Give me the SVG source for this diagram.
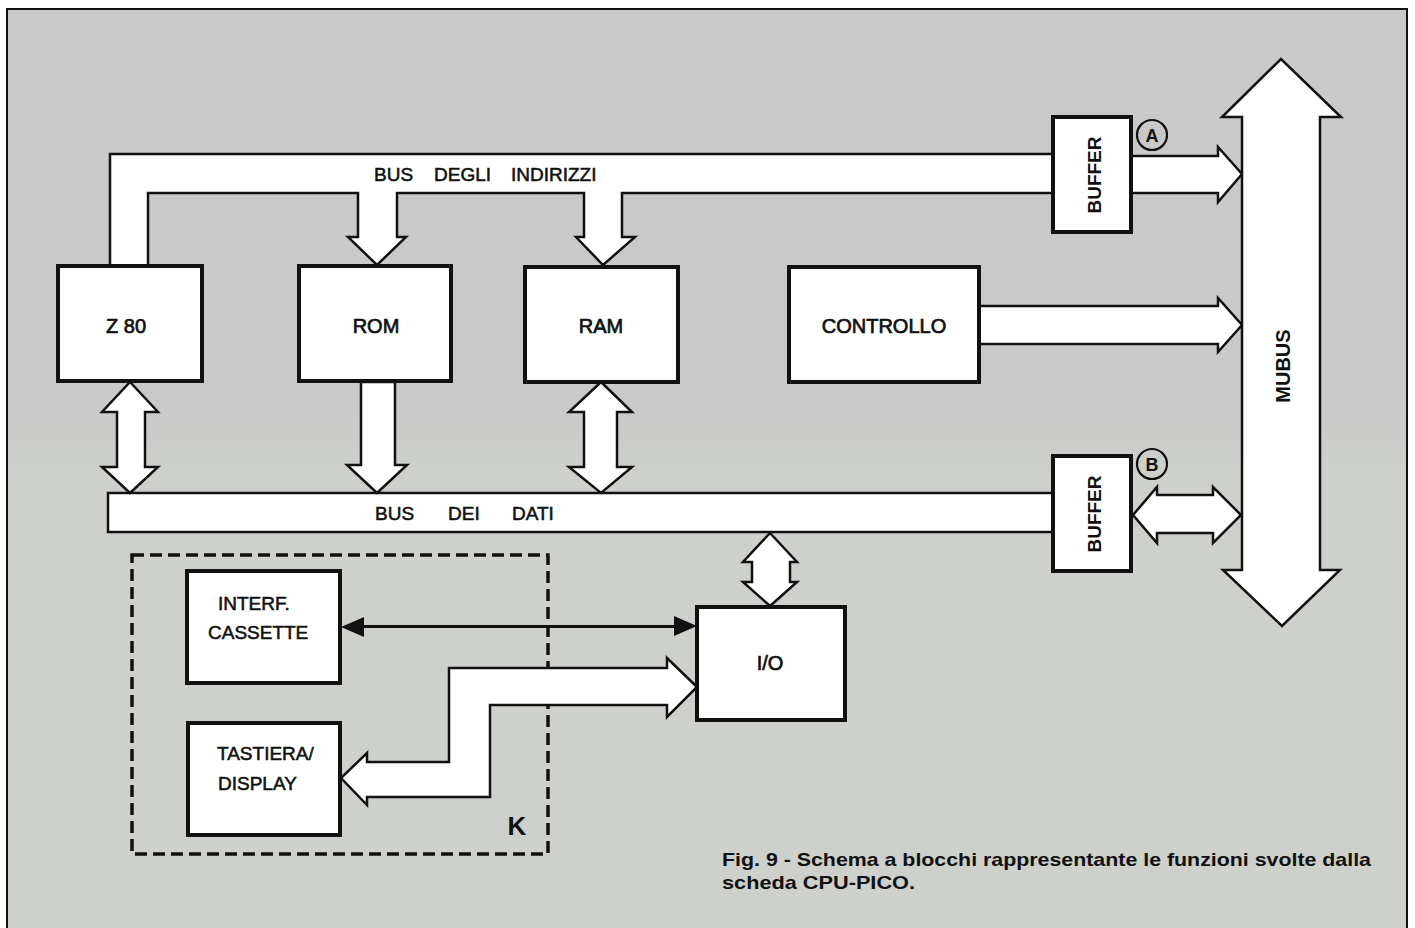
<svg xmlns="http://www.w3.org/2000/svg" width="1415" height="928" viewBox="0 0 1415 928">
<defs>
<linearGradient id="bg" x1="0" y1="0" x2="0" y2="1">
<stop offset="0" stop-color="#c9c9c9"/>
<stop offset="0.42" stop-color="#c9c9c9"/>
<stop offset="0.5" stop-color="#cdd0cb"/>
<stop offset="1" stop-color="#cdd0cb"/>
</linearGradient>
</defs>
<style>
.box{fill:#fff;stroke:#111;stroke-width:4}
.bus{fill:#fff;stroke:#111;stroke-width:2.5;stroke-linejoin:miter}
.lbl{font-family:"Liberation Sans",Arial,sans-serif;font-size:20px;fill:#111;stroke:#111;stroke-width:0.7;text-anchor:middle}
.bl{font-family:"Liberation Sans",Arial,sans-serif;font-size:19px;fill:#111;stroke:#111;stroke-width:0.55}
.bold{font-family:"Liberation Sans",Arial,sans-serif;font-weight:bold;fill:#111}
</style>
<rect x="0" y="0" width="1415" height="928" fill="#fff"/>
<rect x="7" y="9" width="1400" height="930" fill="url(#bg)" stroke="#111" stroke-width="2"/>

<g id="k-group">
  <rect x="132" y="555" width="416" height="299" fill="none" stroke="#111" stroke-width="3.5" stroke-dasharray="12 6"/>
  <text class="bold" x="517" y="835" font-size="26" text-anchor="middle">K</text>
</g>

<g id="connectors">
  <path class="bus" d="M110,266 L110,154 L1053,154 L1053,193 L622,193 L622,237 L635,237 L603,265 L576,237 L584,237 L584,193 L397,193 L397,237 L406,237 L377,265 L348,237 L358,237 L358,193 L148,193 L148,266"/>
  <path class="bus" d="M1131,156 L1218,156 L1218,147 L1242,174 L1218,202 L1218,193 L1131,193"/>
  <path class="bus" d="M980,306 L1218,306 L1218,298 L1242,325 L1218,352 L1218,344 L980,344"/>
  <rect class="bus" x="108" y="493" width="945" height="39"/>
  <path class="bus" d="M130,382 L158,412 L145,412 L145,467 L158,467 L130,493 L102,467 L117,467 L117,412 L102,412 Z"/>
  <path class="bus" d="M361,382 L395,382 L395,465 L407,465 L377,493 L347,465 L361,465 Z"/>
  <path class="bus" d="M601,382 L632,412 L617,412 L617,467 L632,467 L601,493 L569,467 L584,467 L584,412 L569,412 Z"/>
  <path class="bus" d="M770,533 L797,562 L790,562 L790,582 L797,582 L770,606 L743,582 L752,582 L752,562 L743,562 Z"/>
  <path class="bus" d="M1133,515 L1157,487 L1157,495 L1213,495 L1213,487 L1241,515 L1213,543 L1213,533 L1157,533 L1157,543 Z"/>
  <path class="bus" d="M697,687 L667,658 L667,668 L449,668 L449,762 L367,762 L367,753 L341,778 L367,805 L367,797 L490,797 L490,705 L667,705 L667,717 Z"/>
  <line x1="360" y1="626.5" x2="678" y2="626.5" stroke="#111" stroke-width="3"/>
  <polygon points="341,627 364,617 364,637" fill="#111"/>
  <polygon points="697,626 674,616 674,636" fill="#111"/>
</g>

<g id="mubus">
  <path class="bus" d="M1242,570 L1242,117 L1222,117 L1281,59 L1341,117 L1320,117 L1320,570 L1340,570 L1282,626 L1223,570 Z"/>
  <text class="bold" x="1290" y="366" font-size="20" text-anchor="middle" transform="rotate(-90 1290 366)">MUBUS</text>
</g>

<g id="bus-labels">
  <text class="bl" x="374" y="181">BUS</text>
  <text class="bl" x="434" y="181">DEGLI</text>
  <text class="bl" x="511" y="181">INDIRIZZI</text>
  <text class="bl" x="375" y="520">BUS</text>
  <text class="bl" x="448" y="520">DEI</text>
  <text class="bl" x="512" y="520">DATI</text>
</g>

<g id="z80"><rect class="box" x="58" y="266" width="144" height="115"/><text class="lbl" x="126" y="333">Z 80</text></g>
<g id="rom"><rect class="box" x="299" y="266" width="152" height="115"/><text class="lbl" x="376" y="333">ROM</text></g>
<g id="ram"><rect class="box" x="525" y="267" width="153" height="115"/><text class="lbl" x="601" y="333">RAM</text></g>
<g id="controllo"><rect class="box" x="789" y="267" width="190" height="115"/><text class="lbl" x="884" y="333">CONTROLLO</text></g>

<g id="bufferA">
  <rect class="box" x="1053" y="117" width="78" height="115"/>
  <text class="bold" x="1101" y="175" font-size="19" text-anchor="middle" transform="rotate(-90 1101 175)">BUFFER</text>
  <circle cx="1152" cy="135" r="15" fill="none" stroke="#111" stroke-width="2.2"/>
  <text class="bold" x="1152" y="142" font-size="18" text-anchor="middle">A</text>
</g>
<g id="bufferB">
  <rect class="box" x="1053" y="456" width="78" height="115"/>
  <text class="bold" x="1101" y="514" font-size="19" text-anchor="middle" transform="rotate(-90 1101 514)">BUFFER</text>
  <circle cx="1152" cy="464" r="15" fill="none" stroke="#111" stroke-width="2.2"/>
  <text class="bold" x="1152" y="471" font-size="18" text-anchor="middle">B</text>
</g>

<g id="io"><rect class="box" x="697" y="607" width="148" height="113"/><text class="lbl" x="770" y="670">I/O</text></g>

<g id="interf">
  <rect class="box" x="187" y="571" width="153" height="112"/>
  <text class="bl" x="218" y="610">INTERF.</text>
  <text class="bl" x="208" y="639">CASSETTE</text>
</g>
<g id="tastiera">
  <rect class="box" x="188" y="723" width="152" height="112"/>
  <text class="bl" x="217" y="760">TASTIERA/</text>
  <text class="bl" x="218" y="790">DISPLAY</text>
</g>

<g id="caption">
  <text class="bold" x="722" y="866" font-size="19" textLength="649" lengthAdjust="spacingAndGlyphs">Fig. 9 - Schema a blocchi rappresentante le funzioni svolte dalla</text>
  <text class="bold" x="722" y="889" font-size="19" textLength="193" lengthAdjust="spacingAndGlyphs">scheda CPU-PICO.</text>
</g>
</svg>
